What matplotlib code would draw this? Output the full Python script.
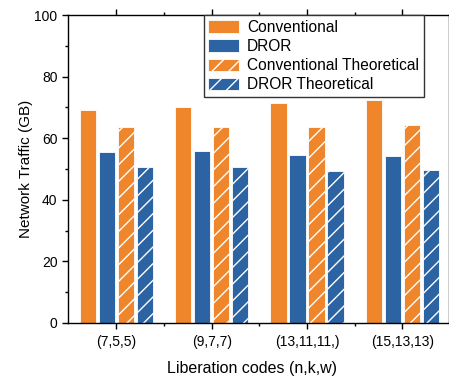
import numpy as np
import matplotlib
matplotlib.use('Agg')
from matplotlib import pyplot as plt
from matplotlib.ticker import MultipleLocator, FixedLocator

plt.rcParams['font.family'] = ['Liberation Sans', 'DejaVu Sans']
plt.rcParams['hatch.linewidth'] = 1.0

codes = ['(7,5,5)', '(9,7,7)', '(13,11,11,)', '(15,13,13)']
conventional = [69.1, 70.2, 71.6, 72.4]
dror = [55.5, 55.9, 54.7, 54.1]
conventional_theory = [63.5, 63.7, 63.7, 64.3]
dror_theory = [50.6, 50.5, 49.4, 49.6]

orange = '#F0862B'
blue = '#2C63A2'

fig = plt.figure(figsize=(4.49, 3.79), dpi=100)
ax = fig.add_axes([0.151, 0.148, 0.849, 0.812])

x = np.arange(len(codes))
w = 0.17
series = [
    (conventional, orange, '', 'Conventional'),
    (dror, blue, '', 'DROR'),
    (conventional_theory, orange, '//', 'Conventional Theoretical'),
    (dror_theory, blue, '//', 'DROR Theoretical'),
]
for i, (vals, col, hatch, lab) in enumerate(series):
    ax.bar(x + (i - 1.5) * 0.2, vals, w, color=col, hatch=hatch,
           edgecolor='white', linewidth=0.6, label=lab)

ax.set_xlim(-0.51, 3.49)
ax.set_ylim(0, 100)
ax.set_xticks(x)
ax.set_xticklabels(codes, fontsize=10)
ax.xaxis.set_minor_locator(FixedLocator([0.5, 1.5, 2.5]))
ax.yaxis.set_major_locator(MultipleLocator(20))
ax.yaxis.set_minor_locator(MultipleLocator(10))
ax.tick_params(axis='both', which='both', direction='out', top=True, right=True,
               labeltop=False, labelright=False, width=1.0)
ax.tick_params(axis='y', labelsize=10)
ax.tick_params(which='major', length=4)
ax.tick_params(which='minor', length=2.5)
ax.tick_params(axis='x', which='major', pad=5)
for s in ax.spines.values():
    s.set_linewidth(1.0)

ax.set_ylabel('Network Traffic (GB)', fontsize=11)
ax.yaxis.set_label_coords(-0.09, 0.5)
ax.set_xlabel('Liberation codes (n,k,w)', fontsize=11.5)
ax.xaxis.set_label_coords(0.482, -0.125)

leg = ax.legend(loc='upper right', bbox_to_anchor=(0.934, 1.0), fontsize=11.2,
                fancybox=False, edgecolor='#333333', framealpha=1,
                handlelength=2.0, handleheight=0.85, labelspacing=0.27,
                borderpad=0.3, handletextpad=0.5, borderaxespad=0)
leg.get_frame().set_linewidth(1.0)

fig.savefig('out.png', dpi=100)
